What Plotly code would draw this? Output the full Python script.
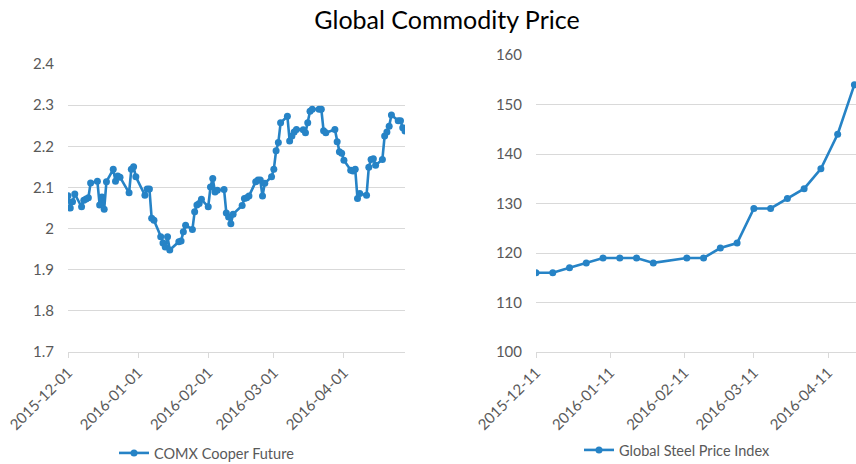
import plotly.graph_objects as go

# ---- data ----
copper_dates = [
    "2015-12-01", "2015-12-02", "2015-12-03", "2015-12-04", "2015-12-07", "2015-12-08", "2015-12-09",
    "2015-12-10", "2015-12-11", "2015-12-14", "2015-12-15", "2015-12-16", "2015-12-17", "2015-12-18",
    "2015-12-21", "2015-12-22", "2015-12-23", "2015-12-24", "2015-12-28", "2015-12-29", "2015-12-30",
    "2015-12-31", "2016-01-04", "2016-01-05", "2016-01-06", "2016-01-07", "2016-01-08", "2016-01-11",
    "2016-01-12", "2016-01-13", "2016-01-14", "2016-01-15", "2016-01-19", "2016-01-20", "2016-01-21",
    "2016-01-22", "2016-01-25", "2016-01-26", "2016-01-27", "2016-01-28", "2016-01-29", "2016-02-01",
    "2016-02-02", "2016-02-03", "2016-02-04", "2016-02-05", "2016-02-08", "2016-02-09", "2016-02-10",
    "2016-02-11", "2016-02-12", "2016-02-16", "2016-02-17", "2016-02-18", "2016-02-19", "2016-02-22",
    "2016-02-23", "2016-02-24", "2016-02-25", "2016-02-26", "2016-02-29", "2016-03-01", "2016-03-02",
    "2016-03-03", "2016-03-04", "2016-03-07", "2016-03-08", "2016-03-09", "2016-03-10", "2016-03-11",
    "2016-03-14", "2016-03-15", "2016-03-16", "2016-03-17", "2016-03-18", "2016-03-21", "2016-03-22",
    "2016-03-23", "2016-03-24", "2016-03-28", "2016-03-29", "2016-03-30", "2016-03-31", "2016-04-01",
    "2016-04-04", "2016-04-05", "2016-04-06", "2016-04-07", "2016-04-08", "2016-04-11", "2016-04-12",
    "2016-04-13", "2016-04-14", "2016-04-15", "2016-04-18", "2016-04-19", "2016-04-20", "2016-04-21",
    "2016-04-22", "2016-04-25", "2016-04-26", "2016-04-27", "2016-04-28",
]
copper_values = [
    2.080, 2.050, 2.065, 2.084, 2.053, 2.069, 2.072,
    2.075, 2.111, 2.115, 2.057, 2.077, 2.047, 2.114,
    2.144, 2.115, 2.128, 2.125, 2.087, 2.144, 2.150,
    2.126, 2.081, 2.096, 2.096, 2.025, 2.020, 1.980,
    1.965, 1.955, 1.980, 1.948, 1.968, 1.970, 1.992,
    2.008, 1.998, 2.041, 2.057, 2.061, 2.071, 2.053,
    2.101, 2.122, 2.089, 2.093, 2.095, 2.038, 2.028,
    2.012, 2.035, 2.056, 2.073, 2.075, 2.079, 2.114,
    2.118, 2.118, 2.079, 2.110, 2.126, 2.144, 2.189,
    2.209, 2.257, 2.273, 2.213, 2.225, 2.235, 2.241,
    2.240, 2.233, 2.257, 2.285, 2.290, 2.290, 2.290,
    2.238, 2.233, 2.241, 2.211, 2.187, 2.183, 2.166,
    2.142, 2.140, 2.144, 2.073, 2.085, 2.081, 2.149,
    2.168, 2.170, 2.154, 2.168, 2.225, 2.235, 2.249,
    2.276, 2.262, 2.262, 2.245, 2.237,
]

steel_dates = [
    "2015-12-11", "2015-12-18", "2015-12-25", "2016-01-01", "2016-01-08", "2016-01-15",
    "2016-01-22", "2016-01-29", "2016-02-12", "2016-02-19", "2016-02-26", "2016-03-04",
    "2016-03-11", "2016-03-18", "2016-03-25", "2016-04-01", "2016-04-08", "2016-04-15",
    "2016-04-22",
]
steel_values = [116, 116, 117, 118, 119, 119, 119, 118, 119, 119, 121, 122, 129, 129, 131, 133, 137, 144, 154]

copper_ticks = ["2015-12-01", "2016-01-01", "2016-02-01", "2016-03-01", "2016-04-01"]
steel_ticks = ["2015-12-11", "2016-01-11", "2016-02-11", "2016-03-11", "2016-04-11"]

title_text = "Global Commodity Price"
copper_name = "COMX Cooper Future"
steel_name = "Global Steel Price Index"

# ---- style ----
BLUE = "#2683C6"
GRID = "#D9D9D9"
TXT = "#595959"
FONT = "Lato, 'Open Sans', sans-serif"

fig = go.Figure()
fig.add_trace(go.Scatter(
    x=copper_dates, y=copper_values, name=copper_name, mode="lines+markers",
    line=dict(color=BLUE, width=2.6), marker=dict(color=BLUE, size=7),
    xaxis="x", yaxis="y", legend="legend",
))
fig.add_trace(go.Scatter(
    x=steel_dates, y=steel_values, name=steel_name, mode="lines+markers",
    line=dict(color=BLUE, width=2.6), marker=dict(color=BLUE, size=7),
    xaxis="x2", yaxis="y2", legend="legend2",
))

axis_common = dict(
    showgrid=False, showline=True, linecolor=GRID, linewidth=1,
    ticks="outside", ticklen=5, tickcolor=GRID, tickangle=-45,
    tickfont=dict(family=FONT, size=15, color=TXT), zeroline=False, automargin=False,
)
yaxis_common = dict(
    showgrid=True, gridcolor=GRID, gridwidth=1, showline=False, zeroline=False,
    ticks="", ticklabelstandoff=13, tickfont=dict(family=FONT, size=15, color=TXT),
    automargin=False,
)

fig.update_layout(
    width=856, height=464,
    margin=dict(l=0, r=0, t=0, b=0, autoexpand=False),
    paper_bgcolor="white", plot_bgcolor="white",
    font=dict(family=FONT, color=TXT),
    title=dict(text=title_text, x=447 / 856, xanchor="center", y=0.957, yanchor="middle",
               font=dict(family=FONT, size=25, color="#000000")),
    xaxis=dict(domain=[68 / 856, 405 / 856], type="date",
               range=["2015-12-01", "2016-04-28"],
               tickvals=copper_ticks, ticktext=copper_ticks, anchor="y", **axis_common),
    yaxis=dict(domain=[112 / 464, 400 / 464], range=[1.7, 2.4], dtick=0.1, tick0=1.7,
               anchor="x", **yaxis_common),
    xaxis2=dict(domain=[536 / 856, 1.0], type="date",
                range=["2015-12-11", "2016-04-22 16:00"],
                tickvals=steel_ticks, ticktext=steel_ticks, anchor="y2", **axis_common),
    yaxis2=dict(domain=[112 / 464, 409 / 464], range=[100, 160], dtick=10,
                anchor="x2", **yaxis_common),
    legend=dict(x=207 / 856, y=11 / 464, xanchor="center", yanchor="middle",
                orientation="h", itemwidth=30, font=dict(family=FONT, size=14.5, color=TXT),
                bgcolor="rgba(0,0,0,0)"),
    legend2=dict(x=677 / 856, y=14 / 464, xanchor="center", yanchor="middle",
                 orientation="h", itemwidth=30, font=dict(family=FONT, size=14.5, color=TXT),
                 bgcolor="rgba(0,0,0,0)"),
    showlegend=True,
)

fig.write_html("out.html", config={"displayModeBar": False},
               post_script="document.body.style.margin='0px';")
